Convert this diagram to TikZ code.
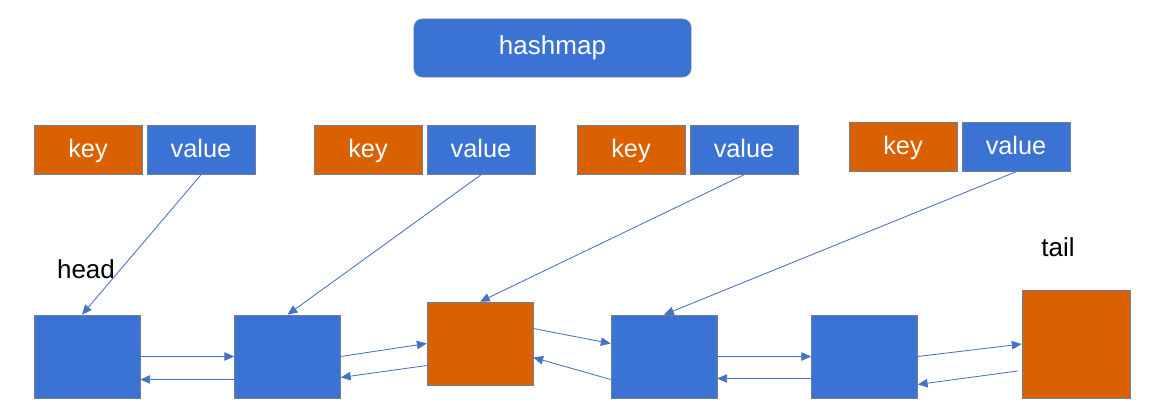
\documentclass[tikz,border=0pt]{standalone}
\usepackage{fontspec}
\setmainfont{Liberation Sans}
\usetikzlibrary{calc,arrows.meta}
\definecolor{boxblue}{RGB}{59,115,212}
\definecolor{boxorange}{RGB}{218,97,0}
\definecolor{edgegray}{RGB}{115,125,150}
\definecolor{linkblue}{RGB}{68,114,196}

\begin{document}
\begin{tikzpicture}[x=0.025cm,y=-0.025cm,
    bluebox/.style={draw=edgegray,fill=boxblue,text=white,inner sep=0pt},
    orangebox/.style={draw=edgegray,fill=boxorange,text=white,inner sep=0pt},
    pair/.style={minimum width=2.7cm,minimum height=1.225cm,text height=14pt,text depth=3pt,font=\fontsize{18}{21}\selectfont},
    cell/.style={minimum width=2.65cm,minimum height=2.075cm},
    label/.style={font=\fontsize{18.5}{22}\selectfont},
    link/.style={linkblue,line width=0.6pt,-{Triangle[length=7pt,width=6pt]}}]
    \useasboundingbox (0,0) rectangle (1153,411);
    \node[bluebox,rounded corners=6pt,minimum width=6.925cm,minimum height=1.45cm,label] (hashmap) at (552.5,48) {hashmap};
    % key / value pairs
    \foreach \i/\x/\y in {1/88/150,2/368/150,3/631/150,4/903/147}{
        \node[orangebox,pair] (k\i) at (\x,\y) {key};
        \node[bluebox,pair] (v\i) at ($(k\i)+(113,0)$) {value};
    }
    % list cells
    \node[bluebox,cell] (c1) at (87,356.5) {};
    \node[bluebox,cell] (c2) at (287.5,356.5) {};
    \node[orangebox,cell] (c3) at (480,343.5) {};
    \node[bluebox,cell] (c4) at (664,356.5) {};
    \node[bluebox,cell] (c5) at (864.5,356.5) {};
    \node[orangebox,minimum size=2.7cm] (c6) at (1076,344) {};
    \node[label] (head) at (86,269) {head};
    \node[label] (tail) at (1058,247) {tail};
    \draw[link] (v1.south) -- ($(c1.north)+(-5,0)$);
    \foreach \i in {2,3,4}
        \draw[link] (v\i.south) -- (c\i.north);
    \draw[link] (c1.east) -- (c2.west);
    \draw[link] ($(c2.west)+(0,23)$) -- ($(c1.east)+(0,23)$);
    \draw[link] (c2.east) -- (c3.west);
    \draw[link] ($(c3.west)+(0,22)$) -- ($(c2.east)+(0,21)$);
    \draw[link] ($(c3.east)+(0,-15)$) -- ($(c4.west)+(0,-13)$);
    \draw[link] ($(c4.west)+(0,23)$) -- ($(c3.east)+(0,14)$);
    \draw[link] (c4.east) -- (c5.west);
    \draw[link] ($(c5.west)+(0,22)$) -- ($(c4.east)+(0,22)$);
    \draw[link] (c5.east) -- (c6.west);
    \draw[link] ($(c6.west)+(-4,27)$) -- ($(c5.east)+(0,28)$);
\end{tikzpicture}
\end{document}
